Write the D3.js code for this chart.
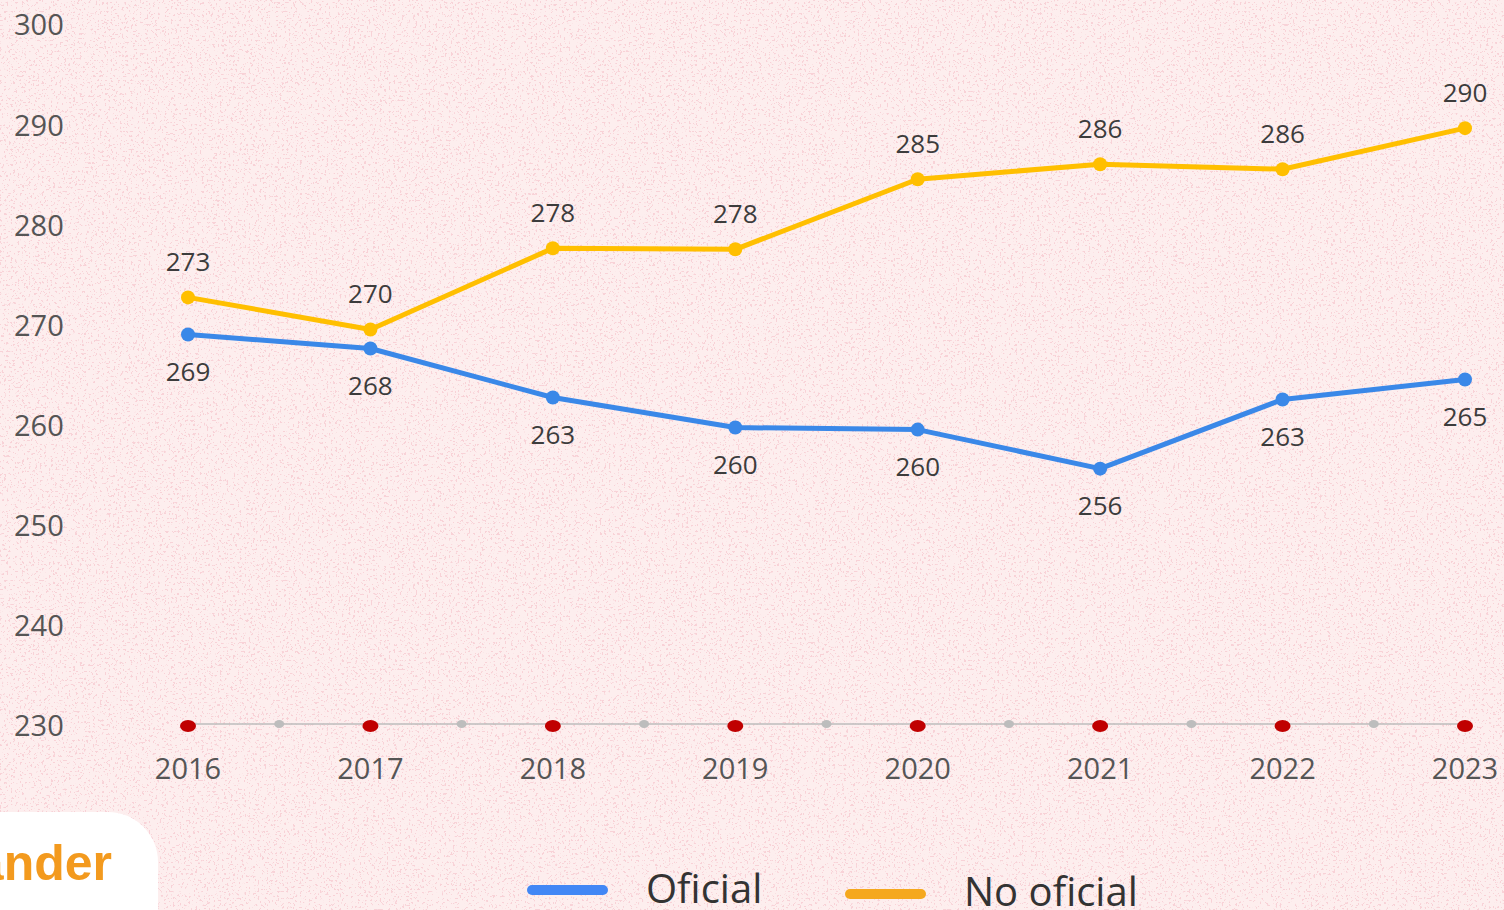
<!DOCTYPE html>
<html>
<head>
<meta charset="utf-8">
<script src="https://cdn.jsdelivr.net/npm/d3@7"></script>
<style>
  html, body { margin: 0; padding: 0; background: #fdeeee; overflow: hidden; }
  svg { display: block; }
</style>
</head>
<body>
<div id="chart"></div>
<script>
'use strict';

var years = [2016, 2017, 2018, 2019, 2020, 2021, 2022, 2023];
var oficial = [269.1, 267.7, 262.8, 259.8, 259.6, 255.7, 262.6, 264.6];
var noOficial = [272.8, 269.6, 277.7, 277.6, 284.6, 286.1, 285.6, 289.7];
var yTicks = [230, 240, 250, 260, 270, 280, 290, 300];
var seriesNames = ['Oficial', 'No oficial'];

var width = 1504, height = 910;
var font = '"Open Sans", "Noto Sans", sans-serif';

var svg = d3.select('#chart').append('svg')
  .attr('width', width).attr('height', height);

// speckled paper background
var defs = svg.append('defs');
var f = defs.append('filter').attr('id', 'speck').attr('x', 0).attr('y', 0)
  .attr('width', '100%').attr('height', '100%');
f.append('feTurbulence').attr('type', 'fractalNoise').attr('baseFrequency', 0.45)
  .attr('numOctaves', 2).attr('seed', 7).attr('result', 'n');
f.append('feColorMatrix').attr('in', 'n').attr('type', 'matrix')
  .attr('values', '0 0 0 0 0.88  0 0 0 0 0.4  0 0 0 0 0.47  0 0 -20 0 7.6');

svg.append('rect').attr('width', width).attr('height', height).attr('fill', '#fdeeee');
svg.append('rect').attr('width', width).attr('height', height)
  .attr('filter', 'url(#speck)').attr('opacity', 0.4);

var x = d3.scaleLinear().domain([2016, 2023]).range([188, 1465]);
var y = d3.scaleLinear().domain([230, 300]).range([726, 25]);

// y tick labels
svg.append('g').selectAll('text').data(yTicks).enter().append('text')
  .attr('x', 14).attr('y', function(d) { return y(d); })
  .attr('dy', '0.36em')
  .attr('font-family', font).attr('font-size', 29).attr('fill', '#555')
  .text(function(d) { return d; });

// x axis line
var ax = svg.append('g');
ax.append('line')
  .attr('x1', x(2016)).attr('x2', x(2023))
  .attr('y1', y(230) - 2).attr('y2', y(230) - 2)
  .attr('stroke', '#bdbdbd').attr('stroke-width', 1.5);

var mids = d3.pairs(years).map(function(p) { return (p[0] + p[1]) / 2; });
ax.selectAll('.mid').data(mids).enter().append('ellipse')
  .attr('cx', function(d) { return x(d); }).attr('cy', y(230) - 2)
  .attr('rx', 5).attr('ry', 4).attr('fill', '#bdbdbd');

ax.selectAll('.yr').data(years).enter().append('ellipse')
  .attr('cx', function(d) { return x(d); }).attr('cy', y(230))
  .attr('rx', 8).attr('ry', 6).attr('fill', '#c00000');

ax.selectAll('text').data(years).enter().append('text')
  .attr('x', function(d) { return x(d); }).attr('y', 769)
  .attr('dy', '0.36em').attr('text-anchor', 'middle')
  .attr('font-family', font).attr('font-size', 29).attr('fill', '#555')
  .text(function(d) { return d; });

var colors = ['#3a88e8', '#ffbf00'];
var series = [oficial, noOficial];
var offsets = [37, -36];

var line = d3.line()
  .x(function(d, i) { return x(years[i]); })
  .y(function(d) { return y(d); });

series.forEach(function(vals, s) {
  var g = svg.append('g');
  g.append('path').datum(vals)
    .attr('d', line).attr('fill', 'none')
    .attr('stroke', colors[s]).attr('stroke-width', 5)
    .attr('stroke-linejoin', 'round');
  g.selectAll('circle').data(vals).enter().append('circle')
    .attr('cx', function(d, i) { return x(years[i]); })
    .attr('cy', function(d) { return y(d); })
    .attr('r', 7).attr('fill', colors[s]);
  g.selectAll('text').data(vals).enter().append('text')
    .attr('x', function(d, i) { return x(years[i]); })
    .attr('y', function(d) { return y(d) + offsets[s]; })
    .attr('dy', '0.36em').attr('text-anchor', 'middle')
    .attr('font-family', font).attr('font-size', 26).attr('fill', '#3c3c3c')
    .text(function(d) { return d3.format('.0f')(d); });
});

// legend
var legendColors = ['#4287f5', '#f5a81e'];
var legendX = [527, 845];
var lg = svg.append('g');
seriesNames.forEach(function(name, i) {
  lg.append('line')
    .attr('x1', legendX[i] + 5).attr('x2', legendX[i] + 76)
    .attr('y1', 890 + i * 4).attr('y2', 890 + i * 4)
    .attr('stroke', legendColors[i]).attr('stroke-width', 10)
    .attr('stroke-linecap', 'round');
  lg.append('text')
    .attr('x', legendX[i] + 119).attr('y', 903 + i * 3)
    .attr('font-family', font).attr('font-size', 40).attr('fill', '#333')
    .text(name);
});

// logo badge, cut off at the left edge
var logo = svg.append('g');
logo.append('rect')
  .attr('x', -60).attr('y', 812).attr('width', 218).attr('height', 160)
  .attr('rx', 50).attr('fill', '#ffffff');
logo.append('text')
  .attr('x', 112).attr('y', 880).attr('text-anchor', 'end')
  .attr('font-family', '"Liberation Sans", Arial, sans-serif').attr('font-weight', 'bold')
  .attr('font-size', 50).attr('fill', '#f39a1e')
  .text('ander');
</script>
</body>
</html>
